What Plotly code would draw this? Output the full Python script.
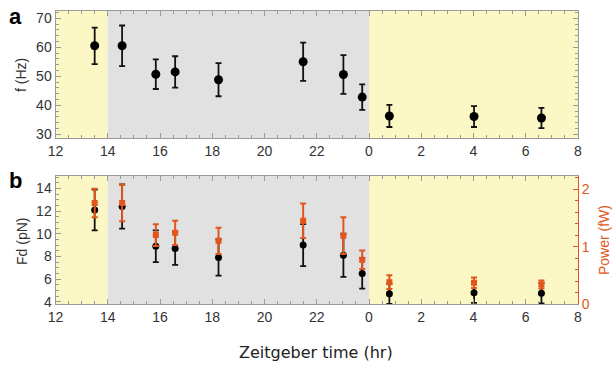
import plotly.graph_objects as go

# continuous Zeitgeber axis: 24 == 0 of next day
time_hr = [13.5, 14.55, 15.84, 16.58, 18.24, 21.48, 23.02, 23.74, 24.78, 28.02, 30.6]
freq_hz = [60.5, 60.5, 50.7, 51.5, 48.8, 55.0, 50.6, 42.8, 36.3, 36.1, 35.6]
freq_err = [6.3, 7.0, 5.1, 5.4, 5.7, 6.6, 6.7, 4.4, 3.8, 3.6, 3.5]
fd_pn = [12.1, 12.4, 8.9, 8.7, 7.9, 9.0, 8.1, 6.5, 4.7, 4.8, 4.75]
fd_err = [1.8, 1.95, 1.4, 1.45, 1.6, 1.85, 1.9, 1.35, 0.9, 0.9, 0.9]
power_fw = [1.76, 1.76, 1.2, 1.24, 1.1, 1.45, 1.19, 0.77, 0.38, 0.37, 0.34]
power_err = [0.25, 0.32, 0.19, 0.21, 0.23, 0.3, 0.32, 0.16, 0.12, 0.09, 0.07]

x_tickvals = [12, 14, 16, 18, 20, 22, 24, 26, 28, 30, 32]
x_ticktext = ["12", "14", "16", "18", "20", "22", "0", "2", "4", "6", "8"]

ORANGE = "#e2561b"
GRID = "#9a9a9a"
YELLOW = "#fcf8c6"
GREY = "#e1e1e1"
FONT = "Liberation Sans"
W, H = 613, 366

fig = go.Figure()

fig.add_trace(go.Scatter(
    x=time_hr, y=freq_hz, mode="markers",
    marker=dict(color="black", size=9),
    error_y=dict(type="data", array=freq_err, color="#111", thickness=1.8, width=3),
    xaxis="x", yaxis="y", showlegend=False))

fig.add_trace(go.Scatter(
    x=time_hr, y=fd_pn, mode="markers",
    marker=dict(color="black", size=7),
    error_y=dict(type="data", array=fd_err, color="#111", thickness=1.8, width=3),
    xaxis="x2", yaxis="y2", showlegend=False))

fig.add_trace(go.Scatter(
    x=time_hr, y=power_fw, mode="markers",
    marker=dict(color=ORANGE, size=6, symbol="square"),
    error_y=dict(type="data", array=power_err, color=ORANGE, thickness=2, width=3),
    xaxis="x2", yaxis="y3", showlegend=False))

shapes = []
for xr, yr in [("x", "y domain"), ("x2", "y2 domain")]:
    shapes.append(dict(type="rect", xref=xr, yref=yr, x0=12, x1=14, y0=0, y1=1,
                       fillcolor=YELLOW, line=dict(width=0), layer="below"))
    shapes.append(dict(type="rect", xref=xr, yref=yr, x0=14, x1=24, y0=0, y1=1,
                       fillcolor=GREY, line=dict(width=0), layer="below"))
    shapes.append(dict(type="rect", xref=xr, yref=yr, x0=24, x1=32, y0=0, y1=1,
                       fillcolor=YELLOW, line=dict(width=0), layer="below"))

xcommon = dict(range=[12, 32], tickvals=x_tickvals, ticktext=x_ticktext,
               ticks="inside", ticklen=5, tickcolor=GRID, showline=True, linecolor=GRID,
               linewidth=1, mirror="ticks", showgrid=False, zeroline=False, automargin=False,
               tickfont=dict(family=FONT, size=14, color="#333"),
               minor=dict(dtick=0.5, tick0=12, ticks="inside", ticklen=3, tickcolor=GRID))

def ann(text, px, py, size=14, color="#333", angle=0, family=FONT):
    return dict(text=text, x=px / W, y=1 - py / H, xref="paper", yref="paper",
                xanchor="center", yanchor="middle", showarrow=False, textangle=angle,
                font=dict(family=family, size=size, color=color))

fig.update_layout(
    width=W, height=H,
    margin=dict(l=0, r=0, t=0, b=0, autoexpand=False),
    paper_bgcolor="white", plot_bgcolor="white",
    shapes=shapes,
    xaxis=dict(domain=[55.5 / W, 578 / W], anchor="y", **xcommon),
    xaxis2=dict(domain=[55.5 / W, 578 / W], anchor="y2", **xcommon),
    yaxis=dict(domain=[1 - 138 / H, 1 - 11 / H], anchor="x", range=[28.7, 72.5],
               tickvals=[30, 40, 50, 60, 70], ticks="inside", ticklen=5, tickcolor=GRID,
               showline=True, linecolor=GRID, mirror="ticks", showgrid=False, zeroline=False,
               automargin=False,
               tickfont=dict(family=FONT, size=14, color="#333"),
               minor=dict(dtick=2, ticks="inside", ticklen=3, tickcolor=GRID)),
    yaxis2=dict(domain=[1 - 304 / H, 1 - 176 / H], anchor="x2", range=[3.8, 15.1],
                tickvals=[4, 6, 8, 10, 12, 14], ticks="inside", ticklen=5, tickcolor=GRID,
                showline=True, linecolor=GRID, showgrid=False, zeroline=False,
                automargin=False,
                tickfont=dict(family=FONT, size=14, color="#333"),
                minor=dict(dtick=0.5, ticks="inside", ticklen=3, tickcolor=GRID)),
    yaxis3=dict(overlaying="y2", side="right", anchor="x2", range=[0, 2.23],
                tickvals=[0, 1, 2], ticks="inside", ticklen=5, tickcolor=ORANGE,
                showline=True, linecolor=ORANGE, showgrid=False, zeroline=False,
                automargin=False,
                tickfont=dict(family=FONT, size=14, color=ORANGE),
                minor=dict(dtick=0.2, ticks="inside", ticklen=3, tickcolor=ORANGE)),
    annotations=[
        ann("<b>a</b>", 15, 16, size=22, color="black"),
        ann("<b>b</b>", 15, 180, size=22, color="black"),
        ann("f (Hz)", 21, 75, angle=-90),
        ann("Fd (pN)", 22, 241, angle=-90),
        ann("Power (fW)", 604, 240, color=ORANGE, angle=-90),
        ann("Zeitgeber time (hr)", 316, 352, size=16, color="#222", family="DejaVu Sans"),
    ],
)

fig.write_html("out.html", config={"displayModeBar": False},
               post_script="document.body.style.margin='0';document.body.style.padding='0';")
